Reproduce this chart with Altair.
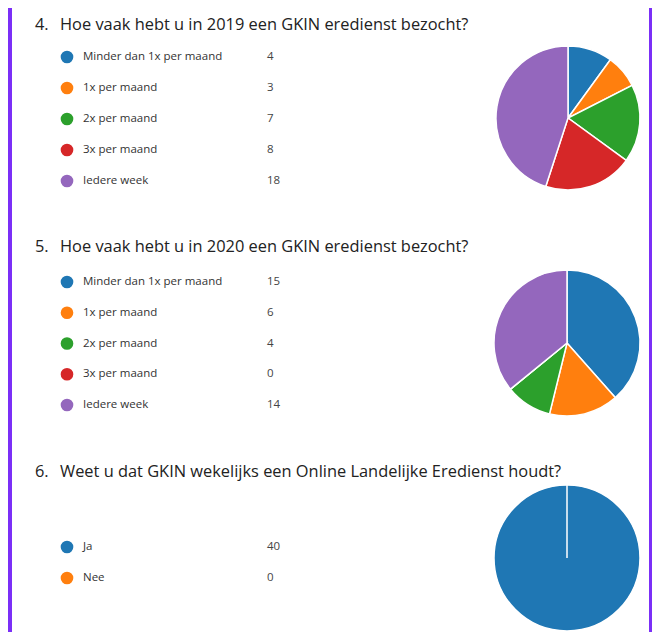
import altair as alt
import pandas as pd

# ---- data ----
numbers = ["4.", "5.", "6."]
titles = [
    "Hoe vaak hebt u in 2019 een GKIN eredienst bezocht?",
    "Hoe vaak hebt u in 2020 een GKIN eredienst bezocht?",
    "Weet u dat GKIN wekelijks een Online Landelijke Eredienst houdt?",
]
freq_cats = ["Minder dan 1x per maand", "1x per maand", "2x per maand", "3x per maand", "Iedere week"]
q4_vals = [4, 3, 7, 8, 18]
q5_vals = [15, 6, 4, 0, 14]
q6_cats = ["Ja", "Nee"]
q6_vals = [40, 0]

palette = ["#1f77b4", "#ff7f0e", "#2ca02c", "#d62728", "#9467bd"]
FONT = "Open Sans"


def panel(num, title, cats, vals, title_y, row_range, cx, cy, r):
    df = pd.DataFrame({"cat": cats, "n": vals, "i": list(range(len(cats)))})
    base = alt.Chart(df)
    color = alt.Color("cat:N", scale=alt.Scale(domain=cats, range=palette[:len(cats)]), legend=None)
    y = alt.Y("cat:N", sort=cats, axis=None, scale=alt.Scale(type="point", range=row_range, padding=0))
    dots = base.mark_circle(size=160, opacity=1).encode(x=alt.value(55), y=y, color=color)
    labels = base.mark_text(align="left", baseline="middle", fontSize=11.5, font=FONT, color="#333333").encode(
        x=alt.value(71), y=y, text="cat:N")
    counts = base.mark_text(align="left", baseline="middle", fontSize=11.5, font=FONT, color="#444444").encode(
        x=alt.value(255), y=y, text="n:Q")
    pie = base.mark_arc(radius=r, stroke="white", strokeWidth=1.5).encode(
        theta=alt.Theta("n:Q", stack=True), color=color, order=alt.Order("i:Q"),
        x=alt.value(cx), y=alt.value(cy))
    tdf = pd.DataFrame({"num": [num], "t": [title]})
    tbase = alt.Chart(tdf)
    tnum = tbase.mark_text(align="left", baseline="middle", fontSize=16.4, font=FONT, color="#222222").encode(
        x=alt.value(23), y=alt.value(title_y), text="num:N")
    ttxt = tbase.mark_text(align="left", baseline="middle", fontSize=16.4, font=FONT, color="#222222").encode(
        x=alt.value(48), y=alt.value(title_y), text="t:N")
    return alt.layer(pie, dots, labels, counts, tnum, ttxt)


p1 = panel(numbers[0], titles[0], freq_cats, q4_vals, 17, [49, 173], 556, 110, 72)
p2 = panel(numbers[1], titles[1], freq_cats, q5_vals, 239, [274, 397], 555, 335, 73)
p3 = panel(numbers[2], titles[2], q6_cats, q6_vals, 464, [539, 570], 555, 550, 73)

chart = alt.layer(p1, p2, p3).resolve_scale(
    y="independent", color="independent", theta="independent"
).properties(
    width=637,
    height=624,
    padding={"left": 4, "right": 3, "top": 0, "bottom": 0},
    autosize=alt.AutoSizeParams(type="none"),
    background="#7b2ff7",
).configure_view(fill="white", stroke=None)

chart.save("out.html", embed_options={"renderer": "svg", "actions": False})
